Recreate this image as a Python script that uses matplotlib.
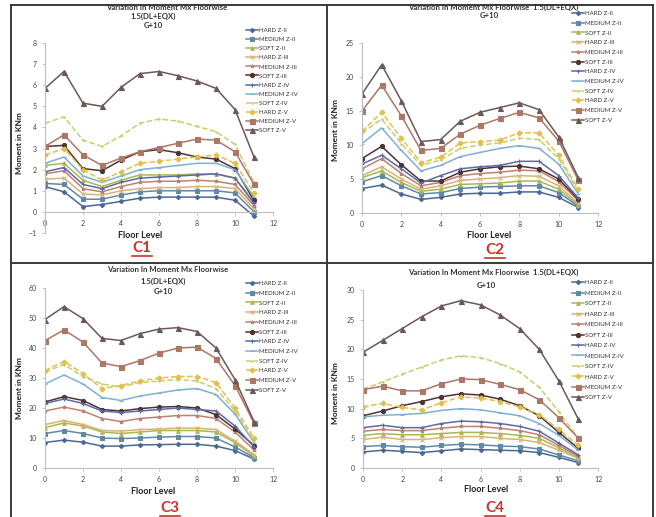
import matplotlib
matplotlib.use("Agg")
import matplotlib.pyplot as plt
from matplotlib.lines import Line2D

plt.rcParams['font.family'] = ['Lato', 'DejaVu Sans']

W, H = 656, 517

floors = list(range(12))

series_names = ["HARD Z-II", "MEDIUM Z-II", "SOFT Z-II",
                "HARD Z-III", "MEDIUM Z-III", "SOFT Z-III",
                "HARD Z-IV", "MEDIUM Z-IV", "SOFT Z-IV",
                "HARD Z-V", "MEDIUM Z-V", "SOFT Z-V"]

# Column C1
c1_hard_z2 = [1.2, 0.95, 0.25, 0.35, 0.5, 0.65, 0.7, 0.7, 0.7, 0.7, 0.55, -0.2]
c1_medium_z2 = [1.35, 1.3, 0.6, 0.6, 0.8, 0.95, 1.0, 1.0, 1.0, 1.0, 0.9, 0.0]
c1_soft_z2 = [2.2, 2.3, 1.5, 1.2, 1.5, 1.75, 1.75, 1.75, 1.8, 1.8, 1.6, 0.5]
c1_hard_z3 = [1.55, 1.6, 0.85, 0.8, 1.0, 1.1, 1.15, 1.15, 1.2, 1.2, 1.1, 0.15]
c1_medium_z3 = [1.8, 1.95, 1.1, 0.95, 1.2, 1.4, 1.45, 1.45, 1.5, 1.45, 1.3, 0.3]
c1_soft_z3 = [3.1, 3.15, 2.05, 1.95, 2.45, 2.85, 2.95, 2.8, 2.6, 2.5, 2.05, 0.55]
c1_hard_z4 = [1.9, 2.1, 1.3, 1.1, 1.4, 1.6, 1.65, 1.7, 1.75, 1.8, 1.6, 0.4]
c1_medium_z4 = [2.3, 2.6, 1.7, 1.4, 1.7, 2.0, 2.1, 2.2, 2.3, 2.3, 2.0, 0.7]
c1_soft_z4 = [4.2, 4.5, 3.4, 3.1, 3.6, 4.2, 4.4, 4.3, 4.05, 3.8, 3.2, 1.4]
c1_hard_z5 = [2.7, 3.0, 2.0, 1.5, 1.9, 2.3, 2.4, 2.5, 2.6, 2.7, 2.3, 0.9]
c1_medium_z5 = [3.1, 3.65, 2.7, 2.2, 2.55, 2.85, 3.05, 3.25, 3.45, 3.4, 2.85, 1.3]
c1_soft_z5 = [5.85, 6.65, 5.15, 5.0, 5.9, 6.55, 6.65, 6.45, 6.2, 5.85, 4.85, 2.6]

# Column C2
c2_hard_z2 = [3.6, 4.1, 2.8, 2.0, 2.3, 2.8, 2.9, 2.9, 3.1, 3.1, 2.3, 0.8]
c2_medium_z2 = [4.6, 5.5, 4.0, 2.8, 3.0, 3.6, 3.8, 3.9, 4.0, 4.0, 3.0, 1.0]
c2_soft_z2 = [5.2, 6.2, 4.5, 3.2, 3.5, 4.2, 4.3, 4.4, 4.7, 4.7, 3.5, 1.2]
c2_hard_z3 = [5.5, 6.8, 5.0, 3.5, 4.0, 4.8, 5.0, 5.2, 5.5, 5.4, 4.0, 1.4]
c2_medium_z3 = [6.5, 8.0, 5.8, 4.0, 4.5, 5.5, 5.8, 6.0, 6.3, 6.2, 4.6, 1.8]
c2_soft_z3 = [8.0, 9.8, 7.1, 4.7, 4.7, 6.0, 6.5, 6.8, 6.9, 6.5, 5.0, 2.0]
c2_hard_z4 = [7.2, 8.5, 6.5, 4.4, 5.5, 6.5, 6.8, 7.0, 7.6, 7.6, 5.5, 2.2]
c2_medium_z4 = [10.2, 12.5, 9.2, 6.2, 7.0, 8.3, 8.9, 9.5, 9.9, 9.5, 7.2, 2.8]
c2_soft_z4 = [11.8, 13.8, 10.2, 7.0, 7.8, 9.5, 10.0, 10.3, 11.0, 10.8, 8.0, 3.2]
c2_hard_z5 = [12.0, 14.8, 11.0, 7.4, 8.2, 10.3, 10.5, 10.7, 11.8, 11.8, 8.5, 3.5]
c2_medium_z5 = [15.0, 18.8, 14.3, 9.2, 9.5, 11.6, 12.9, 13.9, 14.8, 14.0, 10.6, 4.8]
c2_soft_z5 = [17.5, 21.8, 16.5, 10.5, 10.8, 13.5, 14.8, 15.5, 16.2, 15.2, 11.2, 5.2]

# Column C3
c3_hard_z2 = [8.5, 9.3, 8.6, 7.3, 7.3, 7.7, 7.8, 7.9, 7.9, 7.3, 5.8, 3.0]
c3_medium_z2 = [11.5, 12.5, 11.5, 10.0, 9.8, 10.0, 10.3, 10.5, 10.5, 10.0, 7.0, 3.5]
c3_soft_z2 = [13.5, 15.0, 14.0, 12.0, 11.5, 12.0, 12.5, 12.5, 12.5, 12.0, 8.5, 4.0]
c3_hard_z3 = [14.5, 15.8, 14.5, 12.5, 12.3, 12.8, 13.0, 13.3, 13.3, 12.8, 9.0, 4.5]
c3_medium_z3 = [19.0, 20.3, 19.0, 16.5, 15.5, 16.5, 17.0, 17.5, 17.5, 16.5, 12.0, 6.0]
c3_soft_z3 = [22.0, 23.8, 22.5, 19.5, 19.0, 19.8, 20.3, 20.5, 20.0, 17.8, 13.0, 7.5]
c3_hard_z4 = [21.5, 23.0, 21.5, 19.0, 18.5, 19.0, 19.5, 20.0, 19.5, 19.0, 14.0, 7.0]
c3_medium_z4 = [28.0, 31.0, 28.0, 23.5, 22.5, 24.0, 25.0, 26.0, 26.5, 24.5, 18.0, 8.5]
c3_soft_z4 = [32.0, 34.5, 30.5, 28.0, 27.0, 28.5, 29.0, 29.5, 29.0, 26.5, 19.0, 9.0]
c3_hard_z5 = [32.5, 35.5, 31.5, 26.5, 27.5, 29.0, 30.0, 30.5, 30.5, 28.5, 20.0, 10.0]
c3_medium_z5 = [42.5, 46.0, 42.0, 35.0, 33.8, 35.8, 38.3, 40.0, 40.3, 36.5, 27.5, 15.0]
c3_soft_z5 = [49.5, 53.8, 49.8, 43.2, 42.5, 44.8, 46.3, 46.8, 45.5, 40.0, 29.5, 15.5]

# Column C4
c4_hard_z2 = [2.7, 3.0, 2.8, 2.6, 2.9, 3.2, 3.1, 3.0, 2.9, 2.6, 1.8, 0.9]
c4_medium_z2 = [3.6, 3.8, 3.6, 3.5, 3.8, 4.0, 3.9, 3.7, 3.6, 3.2, 2.2, 1.2]
c4_soft_z2 = [5.5, 5.8, 5.6, 5.6, 5.8, 6.0, 6.0, 5.8, 5.5, 5.0, 3.4, 1.8]
c4_hard_z3 = [4.8, 5.2, 4.8, 4.8, 5.1, 5.3, 5.3, 5.0, 4.8, 4.3, 3.0, 1.6]
c4_medium_z3 = [6.2, 6.5, 6.3, 6.3, 6.7, 7.0, 7.0, 6.7, 6.3, 5.6, 3.8, 2.0]
c4_soft_z3 = [8.8, 9.6, 10.5, 11.2, 12.0, 12.5, 12.3, 11.6, 10.5, 8.8, 6.0, 3.3]
c4_hard_z4 = [6.8, 7.2, 6.8, 6.8, 7.5, 7.9, 7.8, 7.5, 7.0, 6.2, 4.2, 2.2]
c4_medium_z4 = [8.6, 8.9, 9.0, 9.2, 9.7, 10.0, 9.8, 9.3, 8.8, 7.5, 5.5, 3.0]
c4_soft_z4 = [13.3, 14.5, 15.8, 17.0, 18.2, 18.9, 18.6, 17.6, 16.2, 13.6, 9.5, 5.0]
c4_hard_z5 = [10.3, 10.9, 10.2, 9.8, 11.0, 12.0, 11.8, 11.2, 10.3, 9.0, 6.5, 3.8]
c4_medium_z5 = [13.2, 13.8, 13.0, 13.0, 14.2, 15.0, 14.9, 14.1, 13.2, 11.5, 8.5, 5.0]
c4_soft_z5 = [19.5, 21.5, 23.5, 25.5, 27.3, 28.2, 27.5, 25.8, 23.5, 20.0, 14.7, 8.2]

c1_series = [c1_hard_z2, c1_medium_z2, c1_soft_z2, c1_hard_z3, c1_medium_z3, c1_soft_z3,
             c1_hard_z4, c1_medium_z4, c1_soft_z4, c1_hard_z5, c1_medium_z5, c1_soft_z5]
c2_series = [c2_hard_z2, c2_medium_z2, c2_soft_z2, c2_hard_z3, c2_medium_z3, c2_soft_z3,
             c2_hard_z4, c2_medium_z4, c2_soft_z4, c2_hard_z5, c2_medium_z5, c2_soft_z5]
c3_series = [c3_hard_z2, c3_medium_z2, c3_soft_z2, c3_hard_z3, c3_medium_z3, c3_soft_z3,
             c3_hard_z4, c3_medium_z4, c3_soft_z4, c3_hard_z5, c3_medium_z5, c3_soft_z5]
c4_series = [c4_hard_z2, c4_medium_z2, c4_soft_z2, c4_hard_z3, c4_medium_z3, c4_soft_z3,
             c4_hard_z4, c4_medium_z4, c4_soft_z4, c4_hard_z5, c4_medium_z5, c4_soft_z5]

# line style per series: colour, marker, marker size, line style
styles = [
    ("#4a6896", "D", 2.2, "-"),
    ("#5f8aa6", "s", 2.4, "-"),
    ("#a9b752", "^", 2.6, "-"),
    ("#d9b277", "x", 2.4, "-"),
    ("#bf8272", "*", 2.6, "-"),
    ("#4e3434", "o", 3.0, "-"),
    ("#5d6aa6", "+", 3.0, "-"),
    ("#7fb0d2", "_", 2.6, "-"),
    ("#c9cf6e", ".", 2.0, "--"),
    ("#e2c04a", "D", 2.6, "--"),
    ("#ad7767", "s", 3.6, "-"),
    ("#6b5858", "^", 3.6, "-"),
]


def px_axes(fig, x0, x1, y_top, y_bot):
    return fig.add_axes([x0 / W, 1 - y_bot / H, (x1 - x0) / W, (y_bot - y_top) / H])


def ftext(fig, x, y, s, **kw):
    return fig.text(x / W, 1 - y / H, s, **kw)


fig = plt.figure(figsize=(W / 100, H / 100), dpi=100)

# panel frames
frame = dict(color="#3a3a3a", lw=1.4, transform=fig.transFigure)
for (xa, ya, xb, yb) in [(11, 5, 653, 5), (11, 5, 11, 517), (653, 5, 653, 517),
                         (327, 5, 327, 517), (11, 263, 653, 263)]:
    fig.add_artist(Line2D([xa / W, xb / W], [1 - ya / H, 1 - yb / H], **frame))

panels = [
    dict(series=c1_series, box=(45, 273, 43, 233), ylim=(-1, 8), yticks=range(-1, 9),
         title=["Variation In Moment Mx Floorwise", "1.5(DL+EQX)", "G+10"],
         title_xy=[(167, 7), (153, 16), (153, 26)],
         ylabel_xy=(20, 143), xlabel_xy=(140, 235), tag="C1", tag_xy=(142, 248),
         leg_xy=(246, 28), leg_sp=0.62),
    dict(series=c2_series, box=(362, 598, 43, 213), ylim=(0, 25), yticks=range(0, 26, 5),
         title=["Variation In Moment Mx Floorwise  1.5(DL+EQX)", "G+10"],
         title_xy=[(493, 7), (489, 16)],
         ylabel_xy=(336, 130), xlabel_xy=(489, 236), tag="C2", tag_xy=(495, 250),
         leg_xy=(572, 11), leg_sp=0.72),
    dict(series=c3_series, box=(45, 273, 288, 468), ylim=(0, 60), yticks=range(0, 61, 10),
         title=["Variation In Moment Mx Floorwise", "1.5(DL+EQX)", "G+10"],
         title_xy=[(168, 270), (163, 281), (163, 292)],
         ylabel_xy=(20, 388), xlabel_xy=(153, 492), tag="C3", tag_xy=(170, 508),
         leg_xy=(246, 281), leg_sp=0.72),
    dict(series=c4_series, box=(363, 598, 290, 468), ylim=(0, 30), yticks=range(0, 31, 5),
         title=["Variation In Moment Mx Floorwise  1.5(DL+EQX)", "G+10"],
         title_xy=[(493, 272), (486, 285)],
         ylabel_xy=(336, 393), xlabel_xy=(486, 489), tag="C4", tag_xy=(495, 508),
         leg_xy=(572, 280), leg_sp=0.85),
]

axis_grey = "#bdbdbd"
for p in panels:
    x0, x1, yt, yb = p["box"]
    ax = px_axes(fig, x0, x1, yt, yb)
    handles = []
    for vals, name, (col, mk, ms, ls) in zip(p["series"], series_names, styles):
        h, = ax.plot(floors, vals, color=col, lw=1.1, ls=ls, marker=mk, ms=ms,
                     mec=col, mfc=col, mew=0.8, label=name)
        handles.append(h)
    ax.set_xlim(0, 12)
    ax.set_ylim(*p["ylim"])
    ax.set_xticks(range(0, 13, 2))
    ax.set_yticks(list(p["yticks"]))
    for s in ("top", "right"):
        ax.spines[s].set_visible(False)
    ax.spines["left"].set_color(axis_grey)
    ax.spines["bottom"].set_color(axis_grey)
    ax.spines["left"].set_linewidth(0.8)
    ax.spines["bottom"].set_linewidth(0.8)
    if p["ylim"][0] < 0:
        ax.spines["bottom"].set_position(("data", 0))
    ax.tick_params(axis="both", labelsize=5, colors="#444444", length=2,
                   width=0.6, pad=4)
    ax.tick_params(axis="both", color=axis_grey)
    ax.patch.set_alpha(0)

    for line, (tx, ty) in zip(p["title"], p["title_xy"]):
        ftext(fig, tx, ty, line, ha="center", va="center", fontsize=5.6,
              fontweight="bold", color="#333333")
    ftext(fig, *p["ylabel_xy"], "Moment in KNm", rotation=90, ha="center",
          va="center", fontsize=6, fontweight="bold", color="#222222")
    ftext(fig, *p["xlabel_xy"], "Floor Level", ha="center", va="center",
          fontsize=6.5, fontweight="bold", color="#222222")
    tx, ty = p["tag_xy"]
    ftext(fig, tx, ty, p["tag"], ha="center", va="center", fontsize=11,
          fontweight="bold", color="#c8342c")
    fig.add_artist(Line2D([(tx - 10) / W, (tx + 10) / W], [1 - (ty + 8) / H] * 2,
                          color="#c8342c", lw=1.2, transform=fig.transFigure))

    lx, ly = p["leg_xy"]
    fig.legend(handles=handles, loc="upper left",
               bbox_to_anchor=(lx / W, 1 - ly / H), frameon=False,
               fontsize=4.4, handlelength=2.0, handletextpad=0.2,
               labelspacing=p["leg_sp"], borderaxespad=0, borderpad=0,
               labelcolor="#333333")

fig.savefig("out.png", dpi=100, facecolor="white")
